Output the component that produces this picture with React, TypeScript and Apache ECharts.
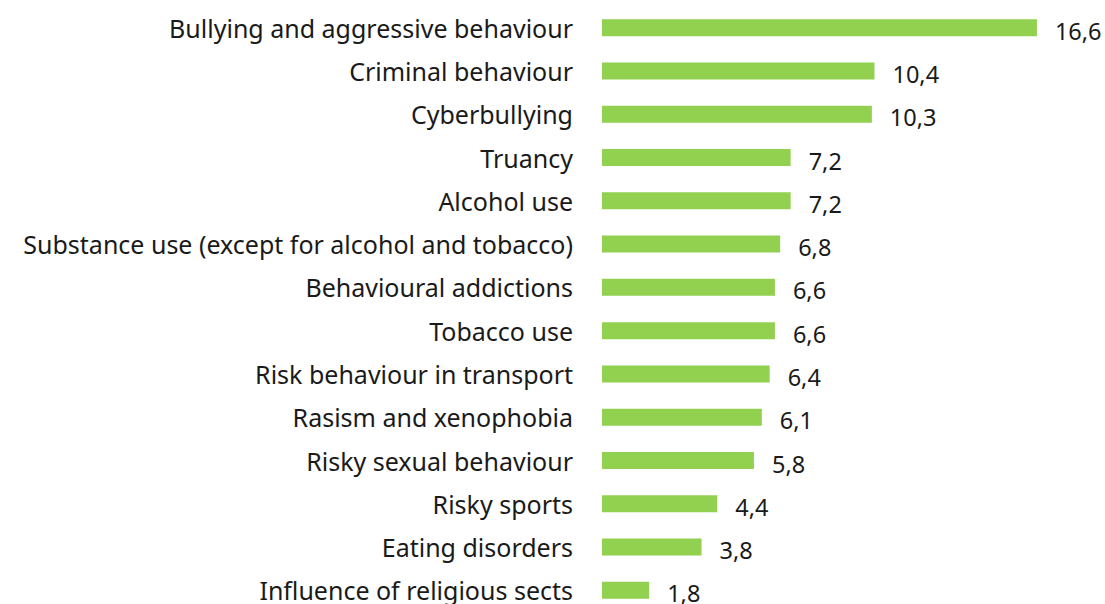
import React, { useEffect, useRef } from "react";
import * as echarts from "echarts";

const categories = [
  "Bullying and aggressive behaviour",
  "Criminal behaviour",
  "Cyberbullying",
  "Truancy",
  "Alcohol use",
  "Substance use (except for alcohol and tobacco)",
  "Behavioural addictions",
  "Tobacco use",
  "Risk behaviour in transport",
  "Rasism and xenophobia",
  "Risky sexual behaviour",
  "Risky sports",
  "Eating disorders",
  "Influence of religious sects",
];

const values = [16.6, 10.4, 10.3, 7.2, 7.2, 6.8, 6.6, 6.6, 6.4, 6.1, 5.8, 4.4, 3.8, 1.8];

export default function App() {
  const ref = useRef<HTMLDivElement>(null);
  useEffect(() => {
    if (!ref.current) return;
    const chart = echarts.init(ref.current, null, { renderer: "svg" });
    chart.setOption({
      animation: false,
      backgroundColor: "#ffffff",
      grid: { left: 602, top: 6, width: 471.6, height: 606, containLabel: false },
      xAxis: {
        type: "value",
        min: 0,
        max: 18,
        show: false,
      },
      yAxis: {
        type: "category",
        inverse: true,
        data: categories,
        axisLine: { show: false },
        axisTick: { show: false },
        axisLabel: {
          margin: 29,
          fontSize: 25,
          color: "#1a1a1a",
          fontFamily: "Noto Sans",
        },
      },
      series: [
        {
          type: "bar",
          data: values,
          barWidth: 17,
          itemStyle: { color: "#92d050" },
          label: {
            show: true,
            position: "right",
            distance: 18,
            offset: [0, 3],
            fontSize: 23.5,
            color: "#1a1a1a",
            fontFamily: "Noto Sans",
            formatter: (p: any) => String(p.value).replace(".", ","),
          },
        },
      ],
    });
    return () => chart.dispose();
  }, []);
  return (
    <div
      ref={ref}
      style={{ position: "absolute", left: 0, top: 0, width: 1105, height: 630 }}
    />
  );
}
